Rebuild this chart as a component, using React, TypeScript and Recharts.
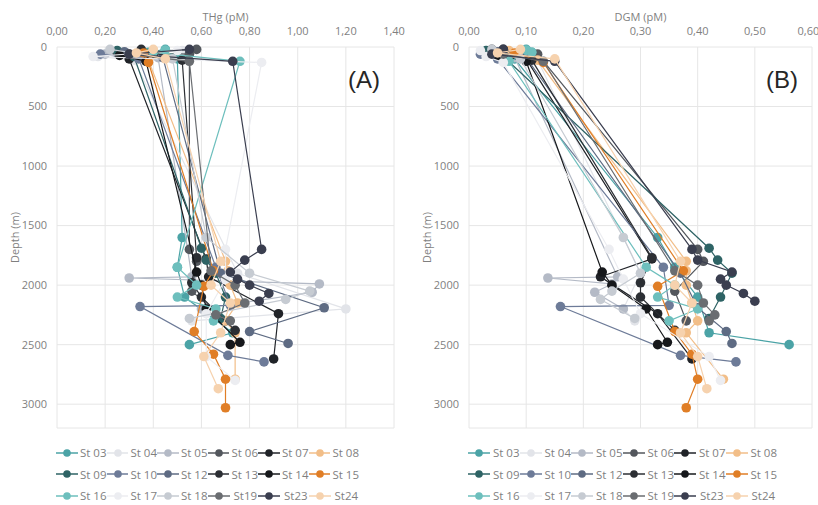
import React from 'react';
import { ScatterChart, Scatter, XAxis, YAxis, CartesianGrid } from 'recharts';

// Stations and their sample depths (m)
const STATIONS = ['St 03', 'St 04', 'St 05', 'St 06', 'St 07', 'St 08', 'St 09', 'St 10', 'St 12', 'St 13', 'St 14', 'St 15', 'St 16', 'St 17', 'St 18', 'St19', 'St23', 'St24'];
const STATIONS_B = ['St 03', 'St 04', 'St 05', 'St 06', 'St 07', 'St 08', 'St 09', 'St 10', 'St 12', 'St 13', 'St 14', 'St 15', 'St 16', 'St 17', 'St 18', 'St 19', 'St23', 'St24'];

const DEPTHS: number[][] = [
  [20, 45, 100, 1600, 1850, 2100, 2400, 2500],
  [30, 80, 110, 1900, 2200, 2300],
  [30, 60, 90, 1930, 1940, 1990, 2060, 2200],
  [20, 50, 60, 1700, 1800, 2050, 2300],
  [60, 100, 1780, 1930, 2240, 2620],
  [30, 70, 110, 1800, 1880, 2000, 2150, 2300, 2400, 2790],
  [30, 80, 1690, 1790, 1900, 2100, 2280],
  [60, 100, 1850, 2170, 2180, 2590, 2645],
  [40, 90, 1900, 2190, 2390, 2490],
  [20, 110, 1770, 1980, 2100, 2380],
  [70, 120, 1890, 2000, 2200, 2480, 2500],
  [50, 130, 1880, 2010, 2390, 2580, 2790, 3030],
  [25, 45, 120, 1850, 2000, 2100, 2200, 2300],
  [30, 80, 130, 1700, 1950, 2240, 2600, 2800],
  [20, 100, 1600, 1900, 2050, 2120, 2280],
  [60, 120, 1880, 2000, 2150, 2250, 2300],
  [20, 60, 120, 1700, 1790, 1890, 1950, 2000, 2070, 2135],
  [20, 50, 100, 1800, 2000, 2150, 2400, 2600, 2870],
];

// THg (pM)
const THG: number[][] = [
  [0.45, 0.38, 0.5, 0.52, 0.5, 0.53, 0.73, 0.55],
  [0.52, 0.17, 0.32, 0.75, 1.2, 0.56],
  [0.35, 0.2, 0.42, 0.56, 0.3, 1.09, 1.06, 0.6],
  [0.58, 0.25, 0.55, 0.55, 0.58, 0.56, 0.7],
  [0.4, 0.3, 0.62, 0.63, 0.92, 0.9],
  [0.4, 0.45, 0.38, 0.7, 0.71, 0.72, 0.75, 0.7, 0.74, 0.74],
  [0.25, 0.32, 0.6, 0.62, 0.66, 0.7, 0.68],
  [0.18, 0.34, 0.66, 0.72, 0.345, 0.71, 0.86],
  [0.28, 0.44, 0.68, 1.11, 0.8, 0.96],
  [0.35, 0.52, 0.58, 0.56, 0.6, 0.74],
  [0.26, 0.37, 0.58, 0.6, 0.62, 0.76, 0.72],
  [0.36, 0.38, 0.65, 0.61, 0.57, 0.65, 0.7, 0.7],
  [0.45, 0.4, 0.76, 0.5, 0.58, 0.5, 0.66, 0.65],
  [0.5, 0.15, 0.85, 0.7, 0.7, 0.62, 0.62, 0.74],
  [0.22, 0.48, 0.62, 0.8, 1.05, 0.95, 0.55],
  [0.3, 0.55, 0.64, 0.74, 0.78, 0.66, 0.72],
  [0.55, 0.3, 0.73, 0.85, 0.78, 0.72, 0.75, 0.8, 0.88, 0.84],
  [0.4, 0.33, 0.45, 0.68, 0.64, 0.72, 0.68, 0.61, 0.67],
];

// DGM (pM)
const DGM: number[][] = [
  [0.1, 0.11, 0.08, 0.33, 0.36, 0.4, 0.42, 0.56],
  [0.03, 0.05, 0.12, 0.3, 0.27, 0.29],
  [0.04, 0.03, 0.08, 0.26, 0.138, 0.25, 0.22, 0.27],
  [0.04, 0.09, 0.12, 0.4, 0.41, 0.36, 0.38],
  [0.05, 0.1, 0.32, 0.23, 0.33, 0.39],
  [0.07, 0.1, 0.12, 0.38, 0.38, 0.38, 0.39, 0.4, 0.38, 0.445],
  [0.03, 0.06, 0.42, 0.435, 0.46, 0.44, 0.42],
  [0.02, 0.05, 0.34, 0.35, 0.16, 0.37, 0.467],
  [0.05, 0.1, 0.37, 0.4, 0.45, 0.46],
  [0.06, 0.11, 0.32, 0.3, 0.3, 0.36],
  [0.05, 0.1, 0.233, 0.25, 0.31, 0.347, 0.33],
  [0.08, 0.13, 0.375, 0.33, 0.36, 0.39, 0.4, 0.38],
  [0.1, 0.11, 0.07, 0.31, 0.36, 0.33, 0.4, 0.35],
  [0.02, 0.03, 0.06, 0.245, 0.27, 0.3, 0.42, 0.44],
  [0.04, 0.09, 0.27, 0.3, 0.25, 0.23, 0.29],
  [0.06, 0.13, 0.36, 0.4, 0.41, 0.43, 0.42],
  [0.06, 0.04, 0.15, 0.39, 0.4, 0.46, 0.44, 0.45, 0.48, 0.5],
  [0.09, 0.05, 0.15, 0.37, 0.36, 0.39, 0.37, 0.4, 0.416],
];

const DEPTH_TICKS = [0, 500, 1000, 1500, 2000, 2500, 3000];
const THG_TICKS = [0, 0.2, 0.4, 0.6, 0.8, 1.0, 1.2, 1.4];
const DGM_TICKS = [0, 0.1, 0.2, 0.3, 0.4, 0.5, 0.6];

const COLORS = [
  '#4BA3A6', '#E2E4E9', '#B4BAC6', '#53575D', '#202328', '#F2BE88',
  '#2E6365', '#6D7B98', '#5E6B83', '#2C2F34', '#16181B', '#E07E26',
  '#6DBFBD', '#ECEDF1', '#C6CBD2', '#6A6D71', '#3A3E4F', '#F6D2AE',
];

const FONT = '"Open Sans", "Noto Sans", sans-serif';
const GRAY = '#7F7F7F';

const fmt = (v: number) => v.toFixed(2).replace('.', ',');

const XTitle = ({ viewBox, text }: any) => (
  <text x={viewBox.x + viewBox.width / 2} y={21} textAnchor="middle" fill={GRAY} fontSize={11} fontFamily={FONT}>
    {text}
  </text>
);

const YTitle = ({ viewBox, tx }: any) => {
  const cy = viewBox.y + viewBox.height / 2;
  return (
    <text x={tx} y={cy} transform={`rotate(-90, ${tx}, ${cy})`} textAnchor="middle" dominantBaseline="central" fill={GRAY} fontSize={11} fontFamily={FONT}>
      Depth (m)
    </text>
  );
};

interface PanelProps {
  values: number[][];
  ticks: number[];
  max: number;
  title: string;
  width: number;
  yWidth: number;
  right: number;
  titleX: number;
}

const Panel: React.FC<PanelProps> = ({ values, ticks, max, title, width, yWidth, right, titleX }) => (
  <ScatterChart width={width} height={440} margin={{ top: 5, right, bottom: 12, left: 0 }}>
    <CartesianGrid stroke="#E6E6E6" />
    <XAxis
      type="number"
      dataKey="v"
      orientation="top"
      height={42}
      domain={[0, max]}
      ticks={ticks}
      tickFormatter={fmt}
      axisLine={false}
      tickLine={false}
      tickSize={0}
      tickMargin={12}
      tick={{ fill: GRAY, fontSize: 11, fontFamily: FONT }}
      label={<XTitle text={title} />}
      allowDataOverflow
    />
    <YAxis
      type="number"
      dataKey="d"
      reversed
      width={yWidth}
      domain={[0, 3200]}
      ticks={DEPTH_TICKS}
      axisLine={false}
      tickLine={false}
      tickSize={0}
      tickMargin={10}
      tick={{ fill: GRAY, fontSize: 11, fontFamily: FONT }}
      label={<YTitle tx={titleX} />}
    />
    {values.map((vals, i) => (
      <Scatter
        key={STATIONS[i]}
        name={STATIONS[i]}
        data={DEPTHS[i].map((d, j) => ({ d, v: vals[j] }))}
        fill={COLORS[i]}
        line={{ stroke: COLORS[i], strokeWidth: 1.2 }}
        shape={(p: any) => <circle cx={p.cx} cy={p.cy} r={4.8} fill={COLORS[i]} />}
        isAnimationActive={false}
      />
    ))}
  </ScatterChart>
);

const LegendBlock: React.FC<{ names: string[]; left: number; pitch: number }> = ({ names, left, pitch }) => (
  <div style={{ position: 'absolute', left, top: 442, width: pitch * 6 + 10, display: 'flex', flexWrap: 'wrap' }}>
    {names.map((n, i) => (
      <div key={n} style={{ width: pitch, height: 21.5, display: 'flex', alignItems: 'center' }}>
        <svg width={24} height={12} style={{ marginRight: 2 }}>
          <line x1={0} y1={6} x2={22} y2={6} stroke={COLORS[i]} strokeWidth={1.5} />
          <circle cx={11} cy={6} r={3.8} fill={COLORS[i]} />
        </svg>
        <span style={{ fontSize: 11.5, color: GRAY, fontFamily: FONT, whiteSpace: 'nowrap' }}>{n}</span>
      </div>
    ))}
  </div>
);

const tagStyle: React.CSSProperties = {
  position: 'absolute',
  top: 66,
  fontSize: 24,
  fontFamily: '"Liberation Sans", Arial, sans-serif',
  color: '#262626',
};

export default function App() {
  return (
    <div style={{ position: 'absolute', left: 0, top: 0, width: 818, height: 505, background: '#fff', overflow: 'hidden' }}>
      <div style={{ position: 'absolute', left: 0, top: 0 }}>
        <Panel values={THG} ticks={THG_TICKS} max={1.4} title="THg (pM)" width={410} yWidth={57} right={16} titleX={14} />
      </div>
      <div style={{ position: 'absolute', left: 410, top: 0 }}>
        <Panel values={DGM} ticks={DGM_TICKS} max={0.6} title="DGM (pM)" width={408} yWidth={59} right={6} titleX={16} />
      </div>
      <div style={{ ...tagStyle, left: 348 }}>(A)</div>
      <div style={{ ...tagStyle, left: 766 }}>(B)</div>
      <LegendBlock names={STATIONS} left={56} pitch={50.5} />
      <LegendBlock names={STATIONS_B} left={468} pitch={51.5} />
    </div>
  );
}
